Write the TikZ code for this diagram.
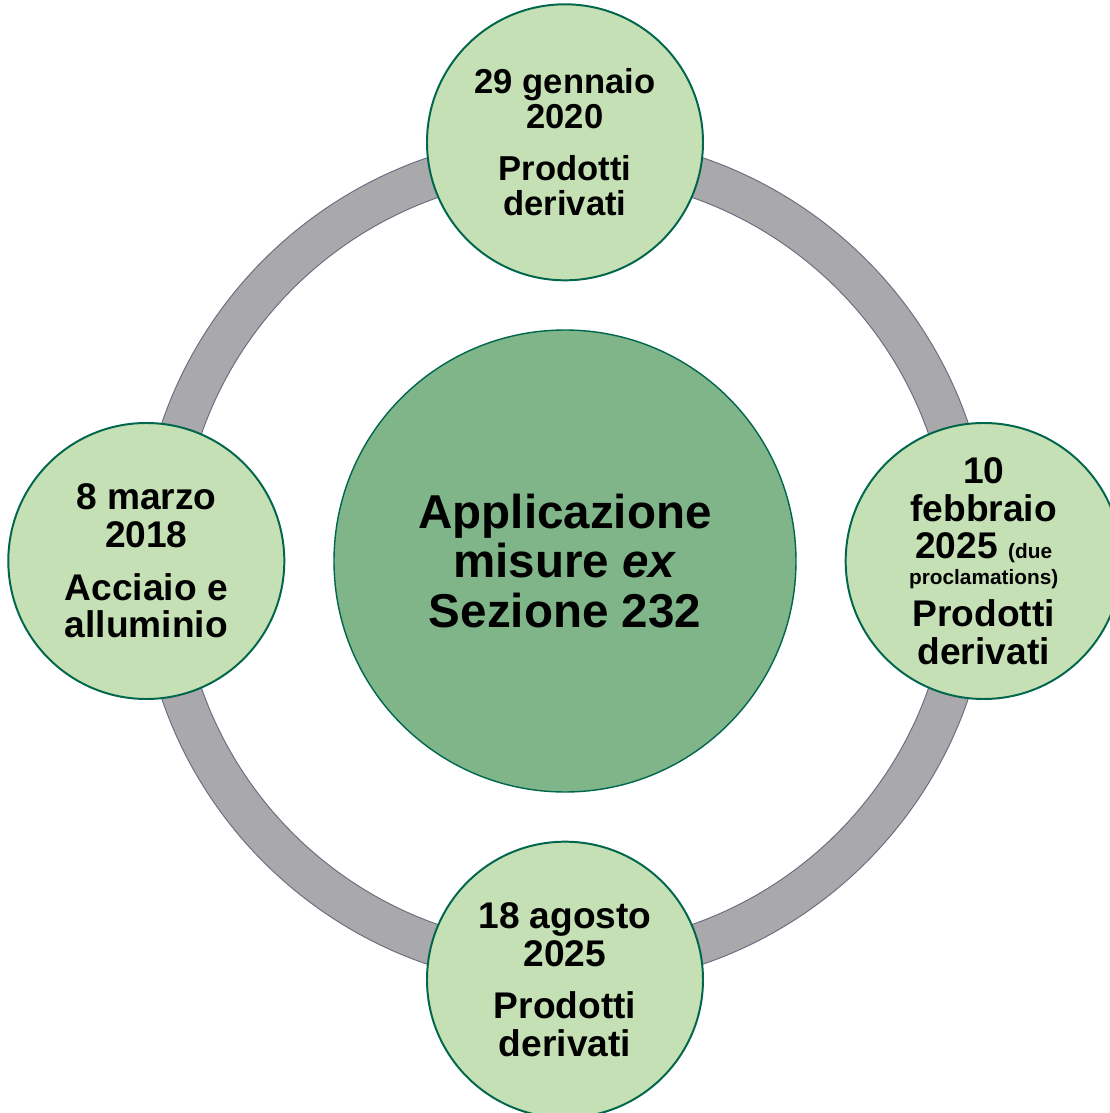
\documentclass[tikz,border=0pt]{standalone}
\usepackage{fontspec}
\setmainfont{Liberation Sans}
\usetikzlibrary{positioning}

\definecolor{ringfill}{RGB}{169,169,171}
\definecolor{ringline}{RGB}{106,112,128}
\definecolor{hubfill}{RGB}{127,181,137}
\definecolor{satfill}{RGB}{197,224,180}
\definecolor{greenline}{RGB}{0,102,76}

\tikzset{
  hub/.style={circle, draw=greenline, line width=1pt, fill=hubfill,
    minimum size=11.55cm, inner sep=0pt, align=center,
    font=\fontsize{33.8}{34.9}\selectfont\bfseries},
  sat/.style={circle, draw=greenline, line width=1.4pt, fill=satfill,
    minimum size=6.9cm, inner sep=0pt, align=center,
    font=\fontsize{26.4}{26.9}\selectfont\bfseries}
}
\newcommand{\smalltxt}{\fontsize{14.8}{15}\selectfont}

\begin{document}
\begin{tikzpicture}[line cap=round]
\useasboundingbox (-14.125,14.025) rectangle (13.6,-13.8);

% ---------- ring behind the circles ----------
\filldraw[fill=ringfill, draw=ringline, line width=0.7pt, even odd rule]
  (0,0) circle[radius=10.65cm] circle[radius=9.625cm];

% ---------- hub ----------
\node[hub] (hub) at (0,0) {Applicazione\\misure \textit{ex}\\Sezione 232};

% ---------- dates ----------
\node[sat, above=1.2cm of hub, font=\fontsize{24.6}{24.9}\selectfont\bfseries]
  (gen2020) {29 gennaio\\2020\\[12pt]Prodotti\\derivati};
\node[sat, left=1.2cm of hub] (mar2018) {8 marzo\\2018\\[10.5pt]Acciaio e\\alluminio};
\node[sat, right=1.2cm of hub] (feb2025)
  {10\\febbraio\\2025 {\smalltxt (due}\\[-8.9pt]
   {\smalltxt proclamations)}\\[3.2pt]Prodotti\\derivati};
\node[sat, below=1.2cm of hub] (ago2025) {18 agosto\\2025\\[10.5pt]Prodotti\\derivati};

\end{tikzpicture}
\end{document}
